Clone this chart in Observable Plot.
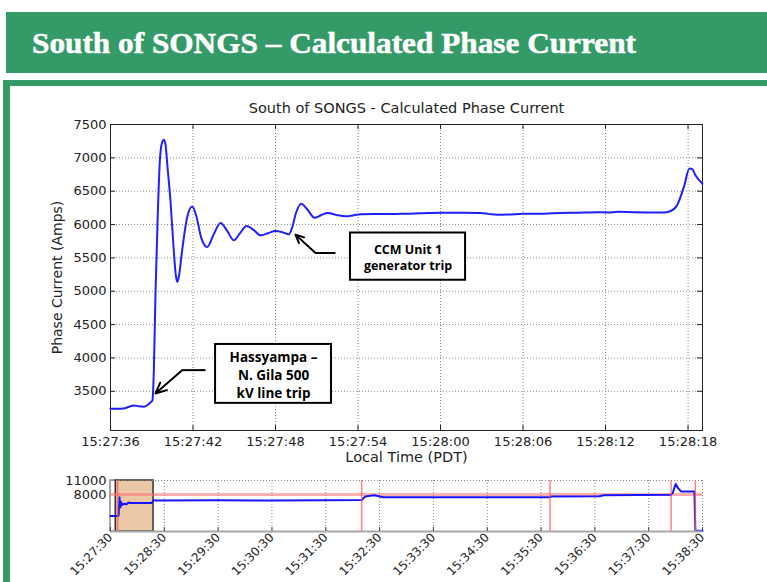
<!DOCTYPE html>
<html>
<head>
<meta charset="utf-8">
<script src="https://cdn.jsdelivr.net/npm/d3@7"></script>
<script src="https://cdn.jsdelivr.net/npm/@observablehq/plot@0.6"></script>
<style>
html, body { margin: 0; padding: 0; background: #fff; }
#page { position: relative; width: 767px; height: 582px; overflow: hidden; background: #fff; }
#header { position: absolute; left: 6px; top: 12px; width: 761px; height: 61px; background: #349a68; }
#frame { position: absolute; left: 3px; top: 80px; width: 800px; height: 600px; border-left: 7px solid #349a68; border-top: 6px solid #349a68; box-sizing: border-box; }
#main { position: absolute; left: 0; top: 88px; }
#overview { position: absolute; left: 0; top: 470px; }
</style>
</head>
<body>
<div id="page">
  <div id="header">
    <svg width="761" height="61">
      <text id="headerText" x="26" y="40.5" fill="#fff" font-family="Liberation Serif" font-weight="bold" font-size="30" stroke="#fff" stroke-width="0.5" textLength="604" lengthAdjust="spacingAndGlyphs">South of SONGS – Calculated Phase Current</text>
    </svg>
  </div>
  <div id="frame"></div>
  <div id="main"></div>
  <div id="overview"></div>
</div>
<script>
// ---------- Text ----------
const chartTitle = "South of SONGS - Calculated Phase Current";
const xAxisLabel = "Local Time (PDT)";
const yAxisLabel = "Phase Current (Amps)";

// ---------- Main chart: seconds after 15:27:36 and phase current (A) ----------
const mainStart = "15:27:36";
const mainEndSeconds = 43.05;
const mainSeconds = [0.0, 0.5, 0.95, 1.35, 1.7, 2.05, 2.4, 2.7, 2.95, 3.05, 3.15, 3.27, 3.43, 3.59, 3.75, 3.88, 4.0, 4.15, 4.36, 4.6, 4.75, 4.85, 4.97, 5.21, 5.58, 5.94, 6.25, 6.6, 7.03, 7.5, 8.0, 8.5, 8.97, 9.45, 9.89, 10.4, 10.91, 11.45, 12.0, 12.5, 12.97, 13.2, 13.5, 13.87, 14.3, 14.84, 15.3, 15.8, 16.4, 17.09, 17.7, 18.2, 19.5, 21.1, 22.5, 24.0, 25.5, 26.9, 27.5, 28.1, 29.0, 30.0, 31.5, 32.7, 34.0, 35.4, 36.2, 36.9, 38.0, 39.0, 40.2, 40.7, 41.2, 41.7, 42.1, 42.3, 42.55, 43.05];
const mainAmps = [3240, 3238, 3242, 3268, 3288, 3275, 3268, 3295, 3340, 3365, 3800, 4950, 6100, 6960, 7230, 7272, 7200, 6850, 6360, 5614, 5240, 5140, 5220, 5614, 6112, 6272, 6120, 5800, 5663, 5850, 6023, 5900, 5763, 5880, 5978, 5920, 5838, 5870, 5903, 5885, 5853, 5950, 6180, 6313, 6230, 6103, 6140, 6172, 6145, 6123, 6140, 6155, 6158, 6160, 6168, 6178, 6176, 6172, 6160, 6148, 6152, 6160, 6162, 6172, 6178, 6185, 6180, 6192, 6186, 6182, 6180, 6200, 6290, 6565, 6840, 6830, 6735, 6610];
const mainTickLabels = ["15:27:36", "15:27:42", "15:27:48", "15:27:54", "15:28:00", "15:28:06", "15:28:12", "15:28:18"];
const ampTicks = [3500, 4000, 4500, 5000, 5500, 6000, 6500, 7000, 7500];
const ampDomain = [2912, 7500];

// ---------- Annotations (seconds after 15:27:36, amps) ----------
const annotationTexts = ["CCM Unit 1\ngenerator trip", "Hassyampa –\nN. Gila 500\nkV line trip"];
const boxSec1 = [17.45, 7.64];
const boxSec2 = [25.82, 16.07];
const boxAmp1 = [5165, 3319];
const boxAmp2 = [5873, 4202];
const arrowTailSec = [16.36, 6.91];
const arrowElbowSec = [14.91, 5.21];
const arrowElbowAmp = [5573, 3817];
const arrowTipSec = [13.45, 3.27];
const arrowTipAmp = [5849, 3468];

// ---------- Overview chart ----------
const overviewTimes = ["15:27:30", "15:27:38", "15:27:39", "15:27:40", "15:27:41", "15:27:42", "15:27:43", "15:27:45", "15:27:48", "15:27:50", "15:27:52", "15:28:16", "15:28:18", "15:28:20", "15:29:30", "15:30:30", "15:31:30", "15:32:10", "15:32:14", "15:32:24", "15:32:34", "15:34:00", "15:35:40", "15:35:42", "15:36:35", "15:36:40", "15:37:55", "15:37:57", "15:38:00", "15:38:03", "15:38:06", "15:38:21", "15:38:22", "15:38:30"];
const overviewAmps = [3350, 3350, 3400, 7400, 5200, 6300, 5700, 6000, 5900, 6250, 6130, 6150, 6800, 6700, 6720, 6700, 6730, 6780, 7550, 7800, 7400, 7380, 7400, 7560, 7600, 7820, 7950, 8400, 10250, 9300, 8650, 8650, 150, 150];
const overviewTickLabels = ["15:27:30", "15:28:30", "15:29:30", "15:30:30", "15:31:30", "15:32:30", "15:33:30", "15:34:30", "15:35:30", "15:36:30", "15:37:30", "15:38:30"];
const overviewAmpTicks = [8000, 11000];
const overviewAmpDomain = [0, 11000];
const leadInWindow = ["15:27:30", "15:27:36"];
const zoomWindow = ["15:27:36", "15:28:18"];
const eventTimes = ["15:27:38", "15:32:10", "15:35:40", "15:37:55", "15:38:22"];
const limitAmps = [8000];

// ---------- helpers ----------
function at(hms) {
  const [h, m, s] = hms.split(":").map(Number);
  return new Date(Date.UTC(2011, 8, 8, h, m, s));
}
const t0 = at(mainStart);
const sec = (s) => new Date(t0.getTime() + s * 1000);
const fmt = d3.utcFormat("%H:%M:%S");
const intFmt = d3.format("d");

const mainData = mainSeconds.map((s, i) => ({time: sec(s), amps: mainAmps[i]}));
const mainTicks = mainTickLabels.map(at);
const xDomain = [t0, sec(mainEndSeconds)];

const boxes = annotationTexts.map((t, i) => ({
  text: t, x1: sec(boxSec1[i]), x2: sec(boxSec2[i]), y1: boxAmp1[i], y2: boxAmp2[i],
  cx: sec((boxSec1[i] + boxSec2[i]) / 2), cy: (boxAmp1[i] + boxAmp2[i]) / 2,
  tailX: sec(arrowTailSec[i]), elbowX: sec(arrowElbowSec[i]), elbowY: arrowElbowAmp[i],
  tipX: sec(arrowTipSec[i]), tipY: arrowTipAmp[i]
}));

const gridStyle = {stroke: "#8c8c8c", strokeOpacity: 1, strokeWidth: 1, strokeDasharray: "1,2"};
const axisColor = "#222";

const mainPlot = Plot.plot({
  width: 767, height: 382,
  marginLeft: 110, marginRight: 65, marginTop: 36, marginBottom: 40,
  style: {background: "transparent", fontFamily: "DejaVu Sans", fontSize: "13px", color: "#222", overflow: "visible"},
  x: {type: "utc", domain: xDomain, label: null},
  y: {domain: ampDomain, label: null},
  marks: [
    Plot.gridX({ticks: mainTicks, ...gridStyle}),
    Plot.gridY({ticks: ampTicks, ...gridStyle}),
    Plot.frame({stroke: axisColor, strokeWidth: 1}),
    Plot.ruleX(mainTicks, {x: d => d, y1: ampDomain[0], y2: ampDomain[0], insetTop: -5, stroke: axisColor}),
    Plot.ruleX(mainTicks, {x: d => d, y1: ampDomain[1], y2: ampDomain[1], insetBottom: -5, stroke: axisColor}),
    Plot.ruleY(ampTicks, {y: d => d, x1: xDomain[0], x2: xDomain[0], insetRight: -5, stroke: axisColor}),
    Plot.ruleY(ampTicks, {y: d => d, x1: xDomain[1], x2: xDomain[1], insetLeft: -5, stroke: axisColor}),
    Plot.axisX({ticks: mainTicks, tickSize: 0, tickPadding: 6, tickFormat: fmt, label: null}),
    Plot.axisY({ticks: ampTicks, tickSize: 0, tickPadding: 4, tickFormat: intFmt, label: null}),
    Plot.line(mainData, {x: "time", y: "amps", stroke: "#2020ff", strokeWidth: 2, curve: "monotone-x"}),
    Plot.rect(boxes, {x1: "x1", x2: "x2", y1: "y1", y2: "y2", fill: "#fff", stroke: "#000", strokeWidth: 2}),
    Plot.link(boxes, {x1: "tailX", x2: "elbowX", y1: "elbowY", y2: "elbowY", stroke: "#000", strokeWidth: 2}),
    Plot.arrow(boxes, {x1: "elbowX", y1: "elbowY", x2: "tipX", y2: "tipY", stroke: "#000", strokeWidth: 2, headLength: 9, headAngle: 50}),
    Plot.text([boxes[0]], {x: "cx", y: "cy", text: "text", fontFamily: "Open Sans", fontWeight: "bold", fontSize: 12.5, lineHeight: 1.3, fill: "#000"}),
    Plot.text([boxes[1]], {x: "cx", y: "cy", text: "text", fontFamily: "Open Sans", fontWeight: "bold", fontSize: 13.5, lineHeight: 1.33, fill: "#000"}),
    Plot.text([chartTitle], {text: d => d, frameAnchor: "top", lineAnchor: "middle", dy: -16, fontSize: 14.5, fill: "#222"}),
    Plot.text([xAxisLabel], {text: d => d, frameAnchor: "bottom", lineAnchor: "middle", dy: 27, fontSize: 14.5, fill: "#222"}),
    Plot.text([yAxisLabel], {text: d => d, frameAnchor: "left", textAnchor: "middle", lineAnchor: "middle", dx: -53, rotate: -90, fontSize: 14, fill: "#222"})
  ]
});
document.getElementById("main").append(mainPlot);

// ---------- Overview ----------
const ovData = overviewTimes.map((t, i) => ({time: at(t), amps: overviewAmps[i]}));
const ovTicks = overviewTickLabels.map(at);
const ovDomain = [ovTicks[0], ovTicks[ovTicks.length - 1]];

const overviewPlot = Plot.plot({
  width: 767, height: 112,
  marginLeft: 110, marginRight: 65, marginTop: 10, marginBottom: 51,
  style: {background: "transparent", fontFamily: "DejaVu Sans", fontSize: "13px", color: "#222", overflow: "visible"},
  x: {type: "utc", domain: ovDomain, label: null},
  y: {domain: overviewAmpDomain, label: null},
  marks: [
    Plot.rect([leadInWindow], {x1: d => at(d[0]), x2: d => at(d[1]), y1: overviewAmpDomain[0], y2: overviewAmpDomain[1], fill: "#fff", stroke: "#888", strokeWidth: 1.5}),
    Plot.rect([zoomWindow], {x1: d => at(d[0]), x2: d => at(d[1]), y1: overviewAmpDomain[0], y2: overviewAmpDomain[1], fill: "#ecc7a5", stroke: "#333", strokeWidth: 1.5}),
    Plot.gridX({ticks: ovTicks.slice(1), ...gridStyle}),
    Plot.gridY({ticks: [overviewAmpDomain[1]], ...gridStyle}),
    Plot.ruleY(limitAmps, {stroke: "#ff6e6e", strokeOpacity: 0.55, strokeWidth: 3}),
    Plot.line(ovData, {x: "time", y: "amps", stroke: "#1515ff", strokeWidth: 2}),
    Plot.ruleX(eventTimes.map(at), {x: d => d, y1: overviewAmpDomain[0], y2: overviewAmpDomain[1], stroke: "#ff5a5a", strokeOpacity: 0.75, strokeWidth: 1.5}),
    Plot.ruleY([overviewAmpDomain[0]], {stroke: "#a8a8a8", strokeWidth: 2}),
    Plot.ruleX(ovTicks, {x: d => d, y1: overviewAmpDomain[0], y2: overviewAmpDomain[0], insetTop: -4, stroke: "#444"}),
    Plot.axisX({ticks: ovTicks, tickSize: 0, tickPadding: 4, tickRotate: -45, tickFormat: fmt, label: null, fontSize: 12}),
    Plot.axisY({ticks: overviewAmpTicks, tickSize: 0, tickPadding: 4, tickFormat: intFmt, label: null})
  ]
});
document.getElementById("overview").append(overviewPlot);
</script>
</body>
</html>
